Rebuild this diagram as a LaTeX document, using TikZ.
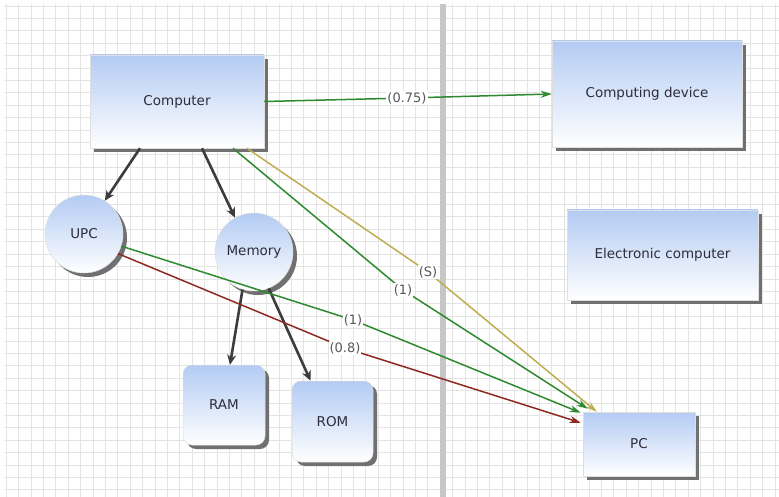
\documentclass[tikz,border=0pt]{standalone}
\usepackage{fontspec}
\setmainfont{DejaVu Sans}
\usetikzlibrary{arrows.meta,shadows}
\definecolor{gridc}{HTML}{E4E4E4}
\definecolor{divc}{HTML}{C6C6C6}
\definecolor{boxblue}{HTML}{B3CBF3}
\definecolor{shadc}{HTML}{707070}
\definecolor{darkc}{HTML}{3C3C3C}
\definecolor{greenc}{HTML}{2F8A2F}
\definecolor{yellowc}{HTML}{BDAE52}
\definecolor{redc}{HTML}{8E2A22}
\definecolor{txtc}{HTML}{2D2D3D}
\definecolor{lblc}{HTML}{585858}
\tikzset{
  shapebase/.style={draw=gray!25, line width=0.5pt, top color=boxblue, bottom color=white,
    drop shadow={shadow xshift=4pt, shadow yshift=-4pt, fill=shadc, opacity=1},
    text=txtc, font=\fontsize{13.5}{16}\selectfont, inner sep=0pt},
  rbox/.style={shapebase, rectangle},
  rrbox/.style={shapebase, rectangle, rounded corners=9pt},
  cbox/.style={shapebase, circle, minimum size=78pt},
  darrow/.style={draw=darkc, line width=2.6pt, -{Stealth[length=10pt,width=9pt]}},
  carrow/.style={line width=1.5pt, -{Stealth[length=11pt,width=7pt]}},
  lbl/.style={fill=white, text=lblc, font=\fontsize{13}{15}\selectfont, inner sep=1pt}
}
\begin{document}
\begin{tikzpicture}[x=1pt,y=-1pt]
\useasboundingbox (0,0) rectangle (779,497);
\fill[white] (0,0) rectangle (779,497);
% grid
\foreach \i in {0,...,62} \draw[gridc, line width=0.6pt] ({6+12.4*\i},4) -- ({6+12.4*\i},497);
\foreach \j in {0,...,39} \draw[gridc, line width=0.6pt] (4,{6+12.4*\j}) -- (779,{6+12.4*\j});
% divider
\fill[divc] (440,4) rectangle (446,497);
% nodes
\node[rbox, minimum width=174pt, minimum height=93pt] (comp) at (177,101.5) {Computer};
\node[rbox, minimum width=190pt, minimum height=106pt] (cd) at (647,94) {Computing device};
\node[rbox, minimum width=191pt, minimum height=90pt] (ec) at (662.5,255) {Electronic computer};
\node[rbox, minimum width=112pt, minimum height=64pt] (pc) at (639,444) {PC};
\node[cbox] (upc) at (84,234) {UPC};
\node[cbox] (mem) at (254,252) {Memory};
\node[rrbox, minimum width=82pt, minimum height=80pt] (ram) at (224,405) {RAM};
\node[rrbox, minimum width=81pt, minimum height=81pt] (rom) at (332.5,421.5) {ROM};
% dark arrows
\draw[darrow] ([xshift=-37pt]comp.south) -- (upc.58);
\draw[darrow] ([xshift=25pt]comp.south) -- (mem.119);
\draw[darrow] (mem.253) -- ([xshift=6pt]ram.north);
\draw[darrow] (mem.292) -- ([xshift=-22pt]rom.north);
% label points
\coordinate (k1) at (407,98);
\coordinate (k2) at (428,272);
\coordinate (k3) at (403,290);
\coordinate (k4) at (353,320);
\coordinate (k5) at (345,348);
% coloured arrows
\draw[carrow, greenc] (comp.east) -- (k1) -- (cd.west);
\draw[carrow, yellowc] ([xshift=70pt]comp.south) -- (k2) -- ([xshift=14pt]pc.north west);
\draw[carrow, greenc] ([xshift=56pt]comp.south) -- (k3) -- ([xshift=5pt,yshift=3pt]pc.north west);
\draw[carrow, greenc] (upc.342) -- (k4) -- ([xshift=-2pt,yshift=-1pt]pc.north west);
\draw[carrow, redc] (upc.330) -- (k5) -- ([xshift=-2pt,yshift=-11pt]pc.north west);
% labels
\node[lbl] (l1) at (k1) {(0.75)};
\node[lbl] (l2) at (k2) {(S)};
\node[lbl] (l3) at (k3) {(1)};
\node[lbl] (l4) at (k4) {(1)};
\node[lbl] (l5) at (k5) {(0.8)};
\end{tikzpicture}
\end{document}
